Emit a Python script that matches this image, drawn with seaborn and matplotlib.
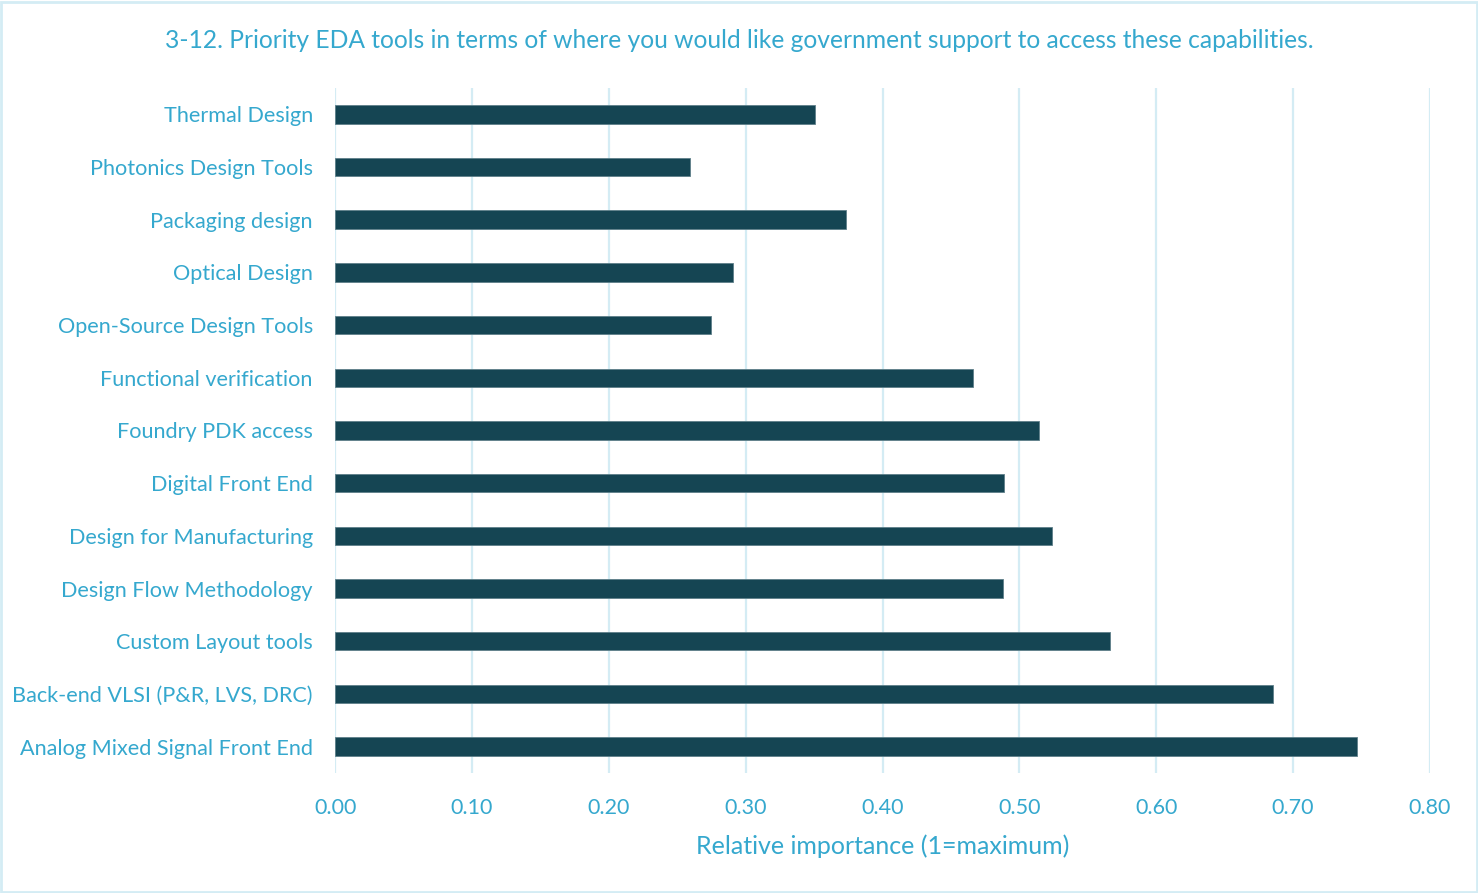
import matplotlib
matplotlib.use("Agg")
import matplotlib.pyplot as plt
import seaborn as sns
import pandas as pd
from matplotlib.patches import Rectangle

# values, top to bottom
tools = ["Thermal Design", "Photonics Design Tools", "Packaging design", "Optical Design",
         "Open-Source Design Tools", "Functional verification", "Foundry PDK access",
         "Digital Front End", "Design for Manufacturing", "Design Flow Methodology",
         "Custom Layout tools", "Back-end VLSI (P&R, LVS, DRC)", "Analog Mixed Signal Front End"]
importance = [0.351, 0.259, 0.373, 0.291, 0.275, 0.466, 0.514,
              0.489, 0.524, 0.488, 0.566, 0.685, 0.747]
xticks = [0.0, 0.1, 0.2, 0.3, 0.4, 0.5, 0.6, 0.7, 0.8]

text_col = "#35A8CE"
bar_col = "#154553"
grid_col = "#D4ECF4"

sns.set_theme(style="white")
plt.rcParams["font.family"] = ["Lato", "DejaVu Sans"]

df = pd.DataFrame({"tool": tools, "value": importance})

fig = plt.figure(figsize=(14.78, 8.93), dpi=100)
ax = fig.add_axes([0.2267, 0.1344, 0.7408, 0.7671])

sns.barplot(data=df, x="value", y="tool", color=bar_col, width=0.35,
            saturation=1, edgecolor="#5E7F89", linewidth=0.6, ax=ax, zorder=3)

ax.set_xlim(0, 0.8)
ax.set_ylim(12.5, -0.5)
ax.set_xticks(xticks)
ax.set_xticklabels([f"{t:.2f}" for t in xticks])
for t in xticks:
    ax.axvline(t, color=grid_col, lw=1.6, zorder=1)
for s in ax.spines.values():
    s.set_visible(False)
ax.tick_params(axis="both", length=0, colors=text_col)
ax.tick_params(axis="x", pad=18, labelsize=15.5)
ax.tick_params(axis="y", pad=16, labelsize=15.6)
ax.set_ylabel("")
ax.set_xlabel("Relative importance (1=maximum)", color=text_col, fontsize=18, labelpad=12)

fig.text(0.5, 0.955, "3-12. Priority EDA tools in terms of where you would like government support to access these capabilities.",
         ha="center", va="center", color=text_col, fontsize=17.7)

fig.patches.append(Rectangle((0.001, 0.001), 0.998, 0.997, transform=fig.transFigure,
                             fill=False, edgecolor=grid_col, lw=2))

fig.savefig("out.png", dpi=100)
